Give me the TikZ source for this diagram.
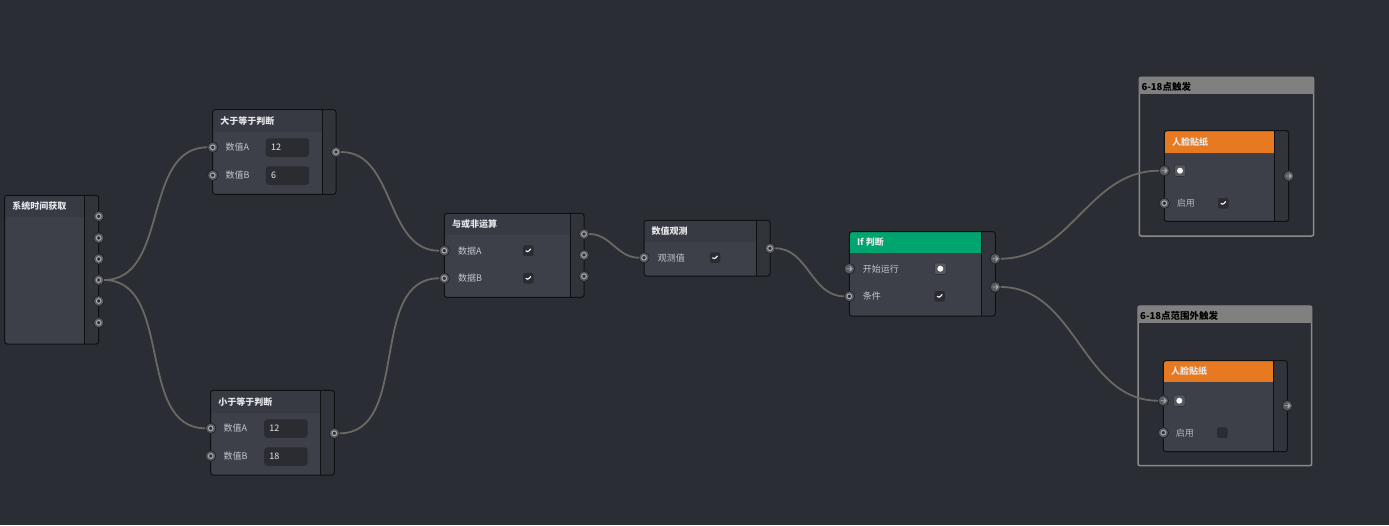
\documentclass[tikz,border=0pt]{standalone}
\usepackage{fontspec}
\setmainfont{Noto Sans CJK SC}
\usetikzlibrary{calc}
\definecolor{bgc}{HTML}{2A2D34}
\definecolor{bodyc}{HTML}{3D4049}
\definecolor{hdrc}{HTML}{373A42}
\definecolor{stripc}{HTML}{31343B}
\definecolor{borderc}{HTML}{0F1012}
\definecolor{wirec}{HTML}{6A6862}
\definecolor{portc}{HTML}{575A62}
\definecolor{ringc}{HTML}{ABADB1}
\definecolor{lblc}{HTML}{C3C6CC}
\definecolor{titlec}{HTML}{E6E7EA}
\definecolor{boxc}{HTML}{2A2C32}
\definecolor{radioc}{HTML}{56585F}
\definecolor{greenc}{HTML}{00A46F}
\definecolor{orangec}{HTML}{E77A21}
\definecolor{grayhc}{HTML}{808080}
\definecolor{grayb}{HTML}{8A8A8A}
\tikzset{
  hdrnormal/.style={fill=hdrc},
  hdrgreen/.style={fill=greenc},
  hdrorange/.style={fill=orangec},
  frame/.style={draw=borderc, line width=1pt, rounded corners=2.5pt, inner sep=0pt, outer sep=0pt},
  ttl/.style={anchor=west, inner sep=0pt, text=titlec, font=\fontsize{9}{10}\selectfont\bfseries},
  lbl/.style={anchor=west, inner sep=0pt, text=lblc, font=\fontsize{9}{10}\selectfont},
  wire/.style={draw=wirec, line width=1.8pt},
  port/.style={circle, minimum size=10.5pt, inner sep=0pt, outer sep=0pt, fill=portc, draw=borderc!85!gray, line width=0.7pt,
    path picture={\draw[ringc, line width=1pt, fill=bodyc!70!black] (path picture bounding box.center) circle (2.3pt);}},
  aport/.style={circle, minimum size=10.5pt, inner sep=0pt, outer sep=0pt, fill=portc, draw=borderc!85!gray, line width=0.7pt,
    path picture={\draw[ringc, line width=0.9pt, shift={(path picture bounding box.center)}]
      (-2.6pt,0pt) -- (2.6pt,0pt) (0.4pt,2.2pt) -- (2.6pt,0pt) -- (0.4pt,-2.2pt);}},
  valbox/.style={anchor=west, fill=boxc, rounded corners=3pt, minimum width=43.3pt, minimum height=18.5pt,
    text width=33pt, inner xsep=5pt, inner ysep=0pt, text=titlec, font=\fontsize{9}{10}\selectfont, align=left},
  chk/.style={fill=boxc, rounded corners=2pt, minimum size=10.5pt, inner sep=0pt,
    path picture={\draw[white, line width=1.1pt, shift={(path picture bounding box.center)}]
      (-2.5pt,0.1pt) -- (-0.7pt,-1.7pt) -- (2.5pt,1.9pt);}},
  emptybox/.style={fill=boxc, rounded corners=2pt, minimum size=10.5pt, inner sep=0pt},
  radio/.style={fill=radioc, draw=borderc!70!gray, line width=0.6pt, rounded corners=2pt, minimum size=11.5pt, inner sep=0pt,
    path picture={\fill[white!92!gray] (path picture bounding box.center) circle (3pt);}},
}
% #1 name, #2 x1, #3 y1, #4 x2, #5 y2, #6 header bottom, #7 strip x, #8 header style, #9 title
\newcommand{\flownode}[9]{%
  \fill[bodyc, rounded corners=2.5pt] (#2,#3) rectangle (#4,#5);
  \begin{scope}
    \clip[rounded corners=2.5pt] (#2,#3) rectangle (#4,#5);
    \fill[#8] (#2,#3) rectangle (#7,#6);
    \fill[stripc] (#7,#3) rectangle (#4,#5);
  \end{scope}
  \draw[borderc, line width=1pt] (#7,#3) -- (#7,#5);
  \node[frame, minimum width={#4-#2}, minimum height={#5-#3}, anchor=north west] (#1) at (#2,#3) {};
  \node[ttl] (#1-t) at ({#2+7.5},{(#3+#6)/2}) {#9};
}
\newcommand{\flowgroup}[6]{%
  \draw[grayb, line width=1.5pt, rounded corners=2pt] (#2,#3) rectangle (#4,#5);
  \fill[grayhc, rounded corners=2pt] (#2,#3) rectangle (#4,{#3+6});
  \fill[grayhc] (#2,{#3+4}) rectangle (#4,{#3+16.7});
  \node[anchor=west, inner sep=0pt, text=black, font=\fontsize{9.5}{10}\selectfont\bfseries] (#1) at ({#2+2},{#3+9.4}) {#6};
}
\begin{document}
\begin{tikzpicture}[x=1pt, y=-1pt]
\fill[bgc] (0,0) rectangle (1389,525);
\useasboundingbox (0,0) rectangle (1389,525);

% ---------- groups ----------
\flowgroup{g1}{1139.3}{77.3}{1313.7}{236}{6-18点触发}
\flowgroup{g2}{1138}{306}{1311.7}{465.7}{6-18点范围外触发}

% ---------- 系统时间获取 ----------
\flownode{sys}{4.7}{195.3}{98.7}{344}{217}{84.3}{hdrnormal}{系统时间获取}
\node[port] (s1) at (98.7,216.3) {};
\node[port] (s2) at (98.7,238) {};
\node[port] (s3) at (98.7,259) {};
\node[port] (s4) at (98.7,280) {};
\node[port] (s5) at (98.7,301) {};
\node[port] (s6) at (98.7,322.7) {};

% ---------- 大于等于判断 ----------
\flownode{ge}{212.7}{109.7}{336}{194.3}{131.7}{322.7}{hdrnormal}{大于等于判断}
\node[port] (gea) at (212.7,147.3) {};
\node[port] (geb) at (212.7,175.3) {};
\node[port] (geo) at (336,152) {};
\node[lbl] (gela) at (225.5,147.3) {数值A};
\node[lbl] (gelb) at (225.5,175.3) {数值B};
\node[valbox] (geva) at (265.7,147.5) {12};
\node[valbox] (gevb) at (265.7,175.5) {6};

% ---------- 小于等于判断 ----------
\flownode{le}{210.7}{390.3}{334.3}{475}{413}{320.7}{hdrnormal}{小于等于判断}
\node[port] (lea) at (210.7,428.3) {};
\node[port] (leb) at (210.7,456) {};
\node[port] (leo) at (334.3,433.3) {};
\node[lbl] (lela) at (223.5,428.3) {数值A};
\node[lbl] (lelb) at (223.5,456) {数值B};
\node[valbox] (leva) at (264,428.5) {12};
\node[valbox] (levb) at (264,456.5) {18};

% ---------- 与或非运算 ----------
\flownode{and}{444.3}{213.3}{584}{297.3}{235}{570.3}{hdrnormal}{与或非运算}
\node[port] (aa) at (444.3,250.7) {};
\node[port] (ab) at (444.3,278.3) {};
\node[port] (ao1) at (584,234) {};
\node[port] (ao2) at (584,255) {};
\node[port] (ao3) at (584,276.3) {};
\node[lbl] (ala) at (458,250.7) {数据A};
\node[lbl] (alb) at (458,278.3) {数据B};
\node[chk] (ac1) at (528.3,250.7) {};
\node[chk] (ac2) at (528.3,278.3) {};

% ---------- 数值观测 ----------
\flownode{obs}{644}{220.3}{770}{276}{241.7}{756.7}{hdrnormal}{数值观测}
\node[port] (oi) at (644,257.7) {};
\node[port] (oo) at (770,248.3) {};
\node[lbl] (ol) at (657.7,257.7) {观测值};
\node[chk] (oc) at (715,257.7) {};

% ---------- If 判断 ----------
\flownode{if}{849.3}{231.7}{995.3}{316}{253}{981.7}{hdrgreen}{If 判断}
\node[aport] (ir) at (849.3,268.7) {};
\node[port] (ic) at (849.3,296.3) {};
\node[aport] (io1) at (995.3,258.7) {};
\node[aport] (io2) at (995.3,287) {};
\node[lbl] (il1) at (862.7,268.7) {开始运行};
\node[lbl] (il2) at (862.7,296.3) {条件};
\node[radio] (irad) at (940.3,268.7) {};
\node[chk] (ichk) at (939.7,296.3) {};

% ---------- 人脸贴纸 1 ----------
\flownode{f1}{1164.3}{130.7}{1288.7}{221.3}{152.7}{1274.3}{hdrorange}{人脸贴纸}
\node[aport] (f1i) at (1164.3,170.7) {};
\node[port] (f1e) at (1164.3,203.3) {};
\node[aport] (f1o) at (1288.7,176) {};
\node[radio] (f1r) at (1180,170.7) {};
\node[lbl, text=lblc!75!gray] (f1l) at (1176.7,203.3) {启用};
\node[chk] (f1c) at (1223.3,203.3) {};

% ---------- 人脸贴纸 2 ----------
\flownode{f2}{1163.3}{360.7}{1287.3}{451.7}{381.7}{1273.3}{hdrorange}{人脸贴纸}
\node[aport] (f2i) at (1163.3,400.7) {};
\node[port] (f2e) at (1163.3,432.7) {};
\node[aport] (f2o) at (1287.3,405.7) {};
\node[radio] (f2r) at (1179.3,400.7) {};
\node[lbl, text=lblc!75!gray] (f2l) at (1175.7,432.7) {启用};
\node[emptybox] (f2c) at (1222.3,432.7) {};

% ---------- wires ----------
\draw[wire] (s4) to[out=0,in=180] (gea);
\draw[wire] (s4) to[out=0,in=180] (lea);
\draw[wire] (geo) to[out=0,in=180] (aa);
\draw[wire] (leo) to[out=0,in=180] (ab);
\draw[wire] (ao1) to[out=0,in=180] (oi);
\draw[wire] (oo) to[out=0,in=180] (ic);
\draw[wire] (io1) to[out=0,in=180] (f1i);
\draw[wire] (io2) to[out=0,in=180] (f2i);
\end{tikzpicture}
\end{document}
